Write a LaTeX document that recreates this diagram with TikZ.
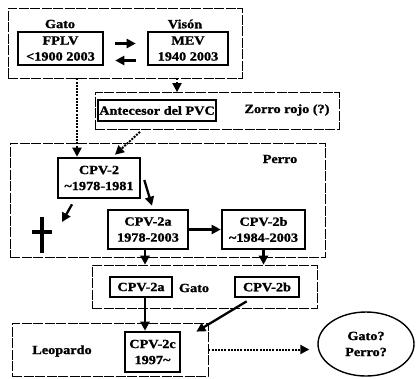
\documentclass[tikz,border=0pt]{standalone}
\usepackage{fontspec}
\setmainfont{Liberation Serif}[FakeStretch=1.14,BoldFeatures={FakeBold=1.2}]
\usetikzlibrary{arrows.meta,positioning,shapes.geometric,calc}

\tikzset{
  strain/.style={draw,line width=2.6pt,align=center,inner sep=1pt},
  grp/.style={draw,line width=0.7pt,dash pattern=on 10pt off 1.5pt},
  arr/.style={-{Triangle[length=9pt,width=9pt]},line width=2.3pt},
  dotarr/.style={-{Triangle[length=9pt,width=9pt]},line width=2pt,
                 dash pattern=on 2pt off 1.2pt},
  crossline/.style={line width=4.5pt}
}

\begin{document}
\begin{tikzpicture}[x=1pt,y=-1pt,
    every node/.style={font=\bfseries\fontsize{12.5}{16}\selectfont}]
  \useasboundingbox (0,0) rectangle (419,378);

  \node[grp,minimum width=234pt,minimum height=70pt] (catgrp) at (125,43) {};
  \node (gatotag) at (60,24) {Gato};
  \node (visontag) at (185,24) {Visón};
  \node[strain,minimum width=85pt,minimum height=33pt] (fplv) at (60.5,48.5)
    {FPLV\\<1900 2003};
  \node[strain,minimum width=80pt,minimum height=33pt] (mev) at (188,48.5)
    {MEV\\1940 2003};
  \draw[arr] ([xshift=11pt,yshift=5pt]fplv.east)
    -- ([xshift=-11pt,yshift=5pt]mev.west);
  \draw[arr] ([xshift=-11pt,yshift=-12pt]mev.west)
    -- ([xshift=11pt,yshift=-12pt]fplv.east);

  \node[grp,minimum width=244pt,minimum height=37pt] (ancgrp) at (217,111) {};
  \node[strain,minimum width=118pt,minimum height=21pt] (anc) at (157,110.5)
    {Antecesor del PVC};
  \node (zorrotag) at (287,110) {Zorro rojo (?)};

  \node[grp,minimum width=315pt,minimum height=114pt] (perrogrp) at (167.5,200) {};
  \node (perrotag) at (280,159) {Perro};
  \node[strain,minimum width=82pt,minimum height=40pt] (cpv2) at (99,178)
    {CPV-2\\\textasciitilde1978-1981};
  \node[strain,minimum width=80pt,minimum height=39pt] (cpv2a) at (148,229.5)
    {CPV-2a\\1978-2003};
  \node[strain,minimum width=83pt,minimum height=39pt] (cpv2b) at (263.5,229.5)
    {CPV-2b\\\textasciitilde1984-2003};
  \coordinate (cross) at (42,232);
  \draw[crossline] ([yshift=15pt]cross) -- ([yshift=-21pt]cross);
  \draw[crossline] ([xshift=-10pt]cross) -- ([xshift=10pt]cross);

  \node[grp,minimum width=225pt,minimum height=43pt] (gatogrp) at (204.5,286.5) {};
  \node[strain,minimum width=62pt,minimum height=20pt] (g2a) at (141,287) {CPV-2a};
  \node (gatotag2) at (194,288) {Gato};
  \node[strain,minimum width=64pt,minimum height=20pt] (g2b) at (267,287) {CPV-2b};

  \node[grp,minimum width=196pt,minimum height=53pt] (leogrp) at (110,349.5) {};
  \node (leotag) at (62,351) {Leopardo};
  \node[strain,minimum width=55pt,minimum height=40pt] (cpv2c) at (152.5,352)
    {CPV-2c\\1997\textasciitilde};

  \node[ellipse,draw,line width=1.4pt,minimum width=96pt,minimum height=64pt,
        align=center] (unk) at (366,344) {Gato?\\Perro?};

  \coordinate (visx) at (177,0);
  \coordinate (fplvx) at (77,0);
  \coordinate (downx) at (145,0);
  \draw[dotarr] (catgrp.south -| visx) -- (ancgrp.north -| visx);
  \draw[dotarr] (catgrp.south -| fplvx) -- (cpv2.north -| fplvx);
  \draw[dotarr] ([xshift=-77pt,yshift=-2pt]ancgrp.south)
    -- ([xshift=16pt,yshift=2pt]cpv2.north);
  \draw[arr] ([xshift=3pt,yshift=-2pt]cpv2.east)
    -- ([xshift=4pt,yshift=3pt]cpv2a.north);
  \draw[arr] ([xshift=-27pt,yshift=-5pt]cpv2.south)
    -- ([xshift=20pt,yshift=10pt]cross);
  \draw[arr] (cpv2a.east) -- (cpv2a.east -| cpv2b.west);
  \draw[arr] (cpv2a.south -| downx) -- (gatogrp.north -| downx);
  \draw[arr] (cpv2b.south) -- (cpv2b.south |- gatogrp.north);
  \draw[arr] (g2a.south -| downx) -- (cpv2c.north -| downx);
  \draw[arr] ([xshift=13pt,yshift=-3pt]g2b.south west)
    -- ([xshift=-12pt,yshift=-9pt]leogrp.north east);
  \draw[dotarr,shorten >=8pt] (leogrp.east) -- (leogrp.east -| unk.west);
\end{tikzpicture}
\end{document}
